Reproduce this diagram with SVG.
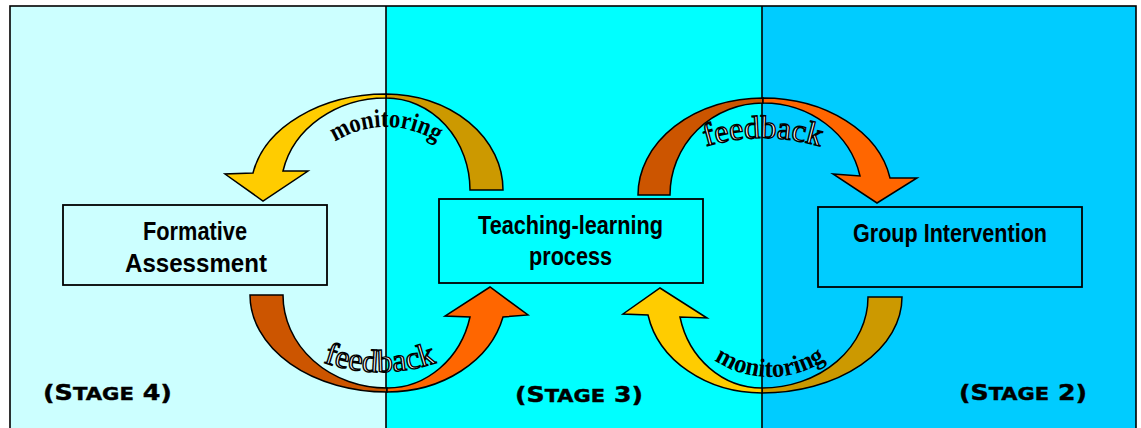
<svg xmlns="http://www.w3.org/2000/svg" width="1141" height="428" viewBox="0 0 1141 428">
<style>
.ol{stroke:#000;stroke-width:1.5;stroke-linejoin:miter}
.yellow{fill:#FFCC00}.gold{fill:#CC9900}.orange{fill:#FF6600}.rust{fill:#CC5500}
.box{stroke:#000;stroke-width:1.8}
.bt{font-family:"Liberation Sans",Arial,sans-serif;font-weight:bold;font-size:25px;text-anchor:middle;fill:#000}
.mon{font-family:"Liberation Serif","Times New Roman",serif;font-weight:bold;font-size:26px;fill:#000}
.fb{font-family:"Liberation Serif","Times New Roman",serif;font-size:32px;fill:#fff;stroke:#000;stroke-width:1.4}
.stage{font-family:"DejaVu Sans","Liberation Sans",sans-serif;font-weight:bold;font-size:21px;fill:#000;stroke:#000;stroke-width:0.4}
</style>
<defs>
<path id="p-tl" d="M 291 222 A 95 95 0 0 1 481 222"/>
<path id="p-tr" d="M 566 335 A 197 197 0 0 1 960 335"/>
<path id="p-bl" d="M 208 200 A 172 172 0 0 0 552 200"/>
<path id="p-br" d="M 670 277 A 100 100 0 0 0 870 277"/>
</defs>
<rect width="1141" height="428" fill="#fff"/>
<g id="panels">
<rect x="10" y="6" width="376" height="430" fill="#CCFFFF"/>
<rect x="386" y="6" width="376" height="430" fill="#00FFFF"/>
<rect x="762" y="6" width="374" height="430" fill="#00CCFF"/>
<rect x="10" y="6" width="1126" height="430" fill="none" stroke="#000" stroke-width="1.6"/>
<line x1="386" y1="6" x2="386" y2="428" stroke="#000" stroke-width="1.6"/>
<line x1="762" y1="6" x2="762" y2="428" stroke="#000" stroke-width="1.6"/>
</g>
<g id="connectors">
<g id="arrow-monitoring-top">
<path class="gold ol" d="M 470 190 L 503 190 A 117 96 0 0 0 386 94 L 386 98 A 84 92 0 0 1 470 190 Z"/>
<path class="yellow ol" d="M 386 94 A 135 96 0 0 0 253 173 L 225 174 L 263 201 L 308 171 L 283 171 A 105 92 0 0 1 386 98 Z"/>
<text class="mon"><textPath href="#p-tl" startOffset="50%" text-anchor="middle" textLength="108" lengthAdjust="spacingAndGlyphs">monitoring</textPath></text>
</g>
<g id="arrow-feedback-top">
<path class="rust ol" d="M 638 195 L 670 195 A 93 92 0 0 1 763 103 L 763 98 A 125 97 0 0 0 638 195 Z"/>
<path class="orange ol" d="M 763 98 A 129 97 0 0 1 890 178 L 917 178 L 877 203 L 833 174 L 860 176 A 99 92 0 0 0 763 103 Z"/>
<text class="fb"><textPath href="#p-tr" startOffset="50%" text-anchor="middle">feedback</textPath></text>
</g>
<g id="arrow-feedback-bottom">
<path class="rust ol" d="M 250 295 L 283 295 A 104 93 0 0 0 387 388 L 387 392 A 137 97 0 0 1 250 295 Z"/>
<path class="orange ol" d="M 387 392 A 119 97 0 0 0 503 317 L 528 315 L 490 287 L 445 316 L 470 317 A 85 93 0 0 1 387 388 Z"/>
<text class="fb"><textPath href="#p-bl" startOffset="50%" text-anchor="middle">feedback</textPath></text>
</g>
<g id="arrow-monitoring-bottom">
<path class="gold ol" d="M 902 297 A 140 96 0 0 1 762 393 L 762 388 A 106 91 0 0 0 868 297 Z"/>
<path class="yellow ol" d="M 762 393 A 116 96 0 0 1 648 315 L 623 314 L 660 288 L 707 318 L 680 317 A 84 91 0 0 0 762 388 Z"/>
<text class="mon"><textPath href="#p-br" startOffset="50%" text-anchor="middle" textLength="118" lengthAdjust="spacingAndGlyphs">monitoring</textPath></text>
</g>
</g>
<g id="node-formative">
<rect class="box" x="63" y="205" width="264" height="80" fill="#CCFFFF"/>
<text class="bt" x="195" y="240" textLength="104" lengthAdjust="spacingAndGlyphs">Formative</text>
<text class="bt" x="196" y="272" textLength="142" lengthAdjust="spacingAndGlyphs">Assessment</text>
</g>
<g id="node-teaching">
<rect class="box" x="439" y="199" width="264" height="84" fill="#00FFFF"/>
<text class="bt" x="570.5" y="234" textLength="185" lengthAdjust="spacingAndGlyphs">Teaching-learning</text>
<text class="bt" x="570.5" y="265" textLength="83" lengthAdjust="spacingAndGlyphs">process</text>
</g>
<g id="node-group">
<rect class="box" x="818" y="207" width="264" height="80" fill="#00CCFF"/>
<text class="bt" x="950" y="242" textLength="194" lengthAdjust="spacingAndGlyphs">Group Intervention</text>
</g>
<g id="stage-labels">
<text class="stage" x="43" y="400" textLength="129" lengthAdjust="spacingAndGlyphs">(S<tspan font-size="17.5">TAGE</tspan> 4)</text>
<text class="stage" x="515" y="402" textLength="128" lengthAdjust="spacingAndGlyphs">(S<tspan font-size="17.5">TAGE</tspan> 3)</text>
<text class="stage" x="959" y="400" textLength="128" lengthAdjust="spacingAndGlyphs">(S<tspan font-size="17.5">TAGE</tspan> 2)</text>
</g>
</svg>
